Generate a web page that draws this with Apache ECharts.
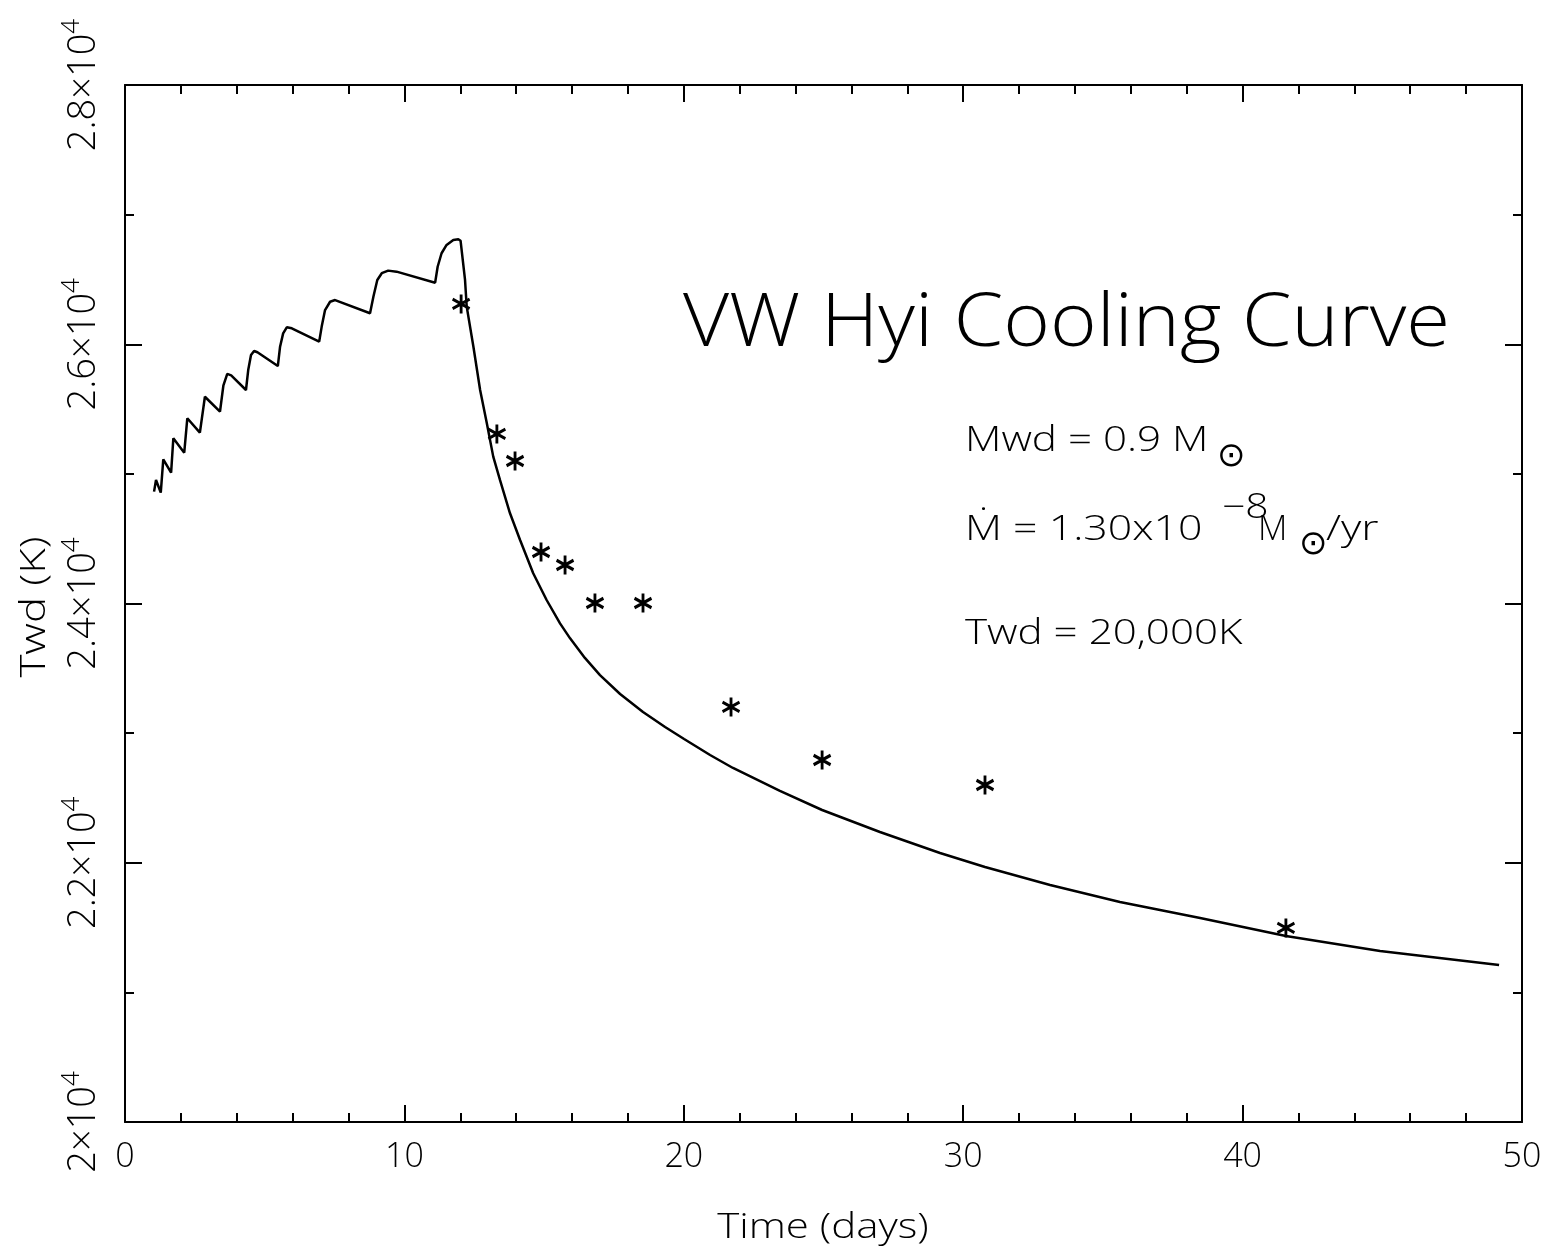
<!DOCTYPE html>
<html>
<head>
<meta charset="utf-8">
<script src="https://cdn.jsdelivr.net/npm/echarts@6/dist/echarts.min.js"></script>
<style>
html,body{margin:0;padding:0;background:#fff;}
#chart{width:1551px;height:1254px;}
</style>
</head>
<body>
<div id="chart"></div>
<script>
// ---- data ----
const modelTime = [1.04,1.11,1.28,1.37,1.65,1.73,2.12,2.23,2.68,2.86,3.40,3.52,3.66,3.80,4.33,4.41,4.51,4.62,4.74,5.47,5.55,5.66,5.79,5.97,6.95,7.04,7.16,7.34,7.52,8.77,8.89,9.03,9.19,9.42,9.72,11.10,11.19,11.33,11.51,11.75,11.93,12.01,12.17,12.23,12.47,12.71,12.95,13.18,13.42,13.78,14.14,14.61,15.09,15.57,15.93,16.46,17.00,17.72,18.54,19.33,20.01,20.94,21.76,23.44,24.95,27.02,29.17,30.78,33.11,35.61,38.48,41.55,44.92,49.18];
const modelTemp = [24863,24953,24855,25112,25009,25274,25163,25429,25318,25595,25480,25680,25771,25760,25647,25801,25917,25948,25938,25832,25981,26084,26131,26123,26020,26136,26264,26328,26341,26239,26367,26496,26548,26568,26560,26475,26598,26702,26766,26805,26810,26799,26496,26290,25981,25647,25390,25133,24953,24696,24490,24233,24027,23847,23731,23580,23448,23302,23163,23047,22955,22831,22731,22554,22407,22237,22075,21967,21828,21697,21574,21435,21319,21211];
const obsTime = [12.03,13.31,13.96,14.89,15.75,16.82,18.54,21.69,24.95,30.78,41.55];
const obsTemp = [26311,25308,25099,24397,24297,24004,24004,23202,22793,22600,21497];
const xTickValues = [0,10,20,30,40,50];
const yTickValues = [20000,22000,24000,26000,28000];
const yTickMantissa = ['2','2.2','2.4','2.6','2.8'];
const yTickExponent = '4';

// ---- chart ----
const FONT = "'Open Sans', 'Liberation Sans', sans-serif";
const black = '#000';
const modelData = modelTime.map((t,i)=>[t, modelTemp[i]]);
const obsData = obsTime.map((t,i)=>[t, obsTemp[i]]);

function axisCommon(extra){
  return Object.assign({
    type:'value',
    axisLine:{show:true,onZero:false,lineStyle:{color:black,width:2}},
    axisTick:{show:true,inside:true,length:17,lineStyle:{color:black,width:2}},
    splitLine:{show:false},
    minorSplitLine:{show:false}
  }, extra);
}
function txt(text, left, top, sx, extra){
  return Object.assign({type:'text',left:left,top:top,scaleX:sx||1,
    style:{text:text,fontSize:34,fontFamily:FONT,fontWeight:300,fill:black}}, extra||{});
}

const chart = echarts.init(document.getElementById('chart'), null, {renderer:'canvas'});
const option = {
  animation:false,
  backgroundColor:'#fff',
  grid:{left:125,right:29,top:85,bottom:132,containLabel:false},
  xAxis:[
    axisCommon({min:0,max:50,interval:10,position:'bottom',
      minorTick:{show:true,splitNumber:5,length:9,lineStyle:{color:black,width:2}},
      axisLabel:{show:true,fontSize:34,color:black,margin:18,fontFamily:FONT,fontWeight:300,
        formatter:v=> xTickValues.indexOf(v)>=0 ? String(v) : ''}}),
    axisCommon({min:0,max:50,interval:10,position:'top',
      minorTick:{show:true,splitNumber:5,length:9,lineStyle:{color:black,width:2}},
      axisLabel:{show:false}})
  ],
  yAxis:[
    axisCommon({min:20000,max:28000,interval:2000,position:'left',
      minorTick:{show:true,splitNumber:2,length:9,lineStyle:{color:black,width:2}},
      axisLabel:{show:true,rotate:90,margin:22,color:black,fontFamily:FONT,
        formatter:v=>{const i=yTickValues.indexOf(v); return i<0?'':'{b|'+yTickMantissa[i]+'×10}{s|'+yTickExponent+'}';},
        rich:{
          b:{fontSize:38,color:black,fontFamily:FONT,fontWeight:300,lineHeight:44,verticalAlign:'bottom'},
          s:{fontSize:26,color:black,fontFamily:FONT,fontWeight:300,lineHeight:44,verticalAlign:'top'}
        }}}),
    axisCommon({min:20000,max:28000,interval:2000,position:'right',
      minorTick:{show:true,splitNumber:2,length:9,lineStyle:{color:black,width:2}},
      axisLabel:{show:false}})
  ],
  series:[
    {type:'line',xAxisIndex:0,yAxisIndex:0,data:modelData,showSymbol:false,smooth:false,
      lineStyle:{color:black,width:2.5},silent:true},
    {type:'scatter',xAxisIndex:0,yAxisIndex:0,data:obsData,
      symbol:'path://M0,-10 L0,10 M-8.66,-5 L8.66,5 M-8.66,5 L8.66,-5',
      symbolSize:[17,19],
      itemStyle:{color:'none',borderColor:black,borderWidth:3,opacity:1}}
  ],
  graphic:[
    {type:'text',x:823,y:1228,scaleX:1.2,
      style:{text:'Time (days)',fontSize:35,fontFamily:FONT,fontWeight:300,fill:black,align:'center',verticalAlign:'middle'}},
    {type:'text',x:35,y:607,rotation:Math.PI/2,scaleX:1.25,
      style:{text:'Twd (K)',fontSize:35,fontFamily:FONT,fontWeight:300,fill:black,align:'center',verticalAlign:'middle'}},
    {type:'text',left:683,top:288,scaleX:1.078,style:{text:'VW Hyi Cooling Curve',fontSize:74,fontFamily:FONT,fontWeight:300,fill:black}},
    txt('Mwd = 0.9 M',965,424,1.24),
    {type:'text',left:1217,top:440,style:{text:'⊙',fontSize:34,fontFamily:"'DejaVu Sans'",fill:black}},
    txt('Ṁ = 1.30x10',965,513,1.26),
    txt('−8',1222,491,1.2),
    txt('M',1258,513,1.0),
    {type:'text',left:1299,top:528,style:{text:'⊙',fontSize:34,fontFamily:"'DejaVu Sans'",fill:black}},
    txt('/yr',1326,513,1.3),
    txt('Twd = 20,000K',965,617,1.24)
  ]
};
chart.setOption(option);
</script>
</body>
</html>
